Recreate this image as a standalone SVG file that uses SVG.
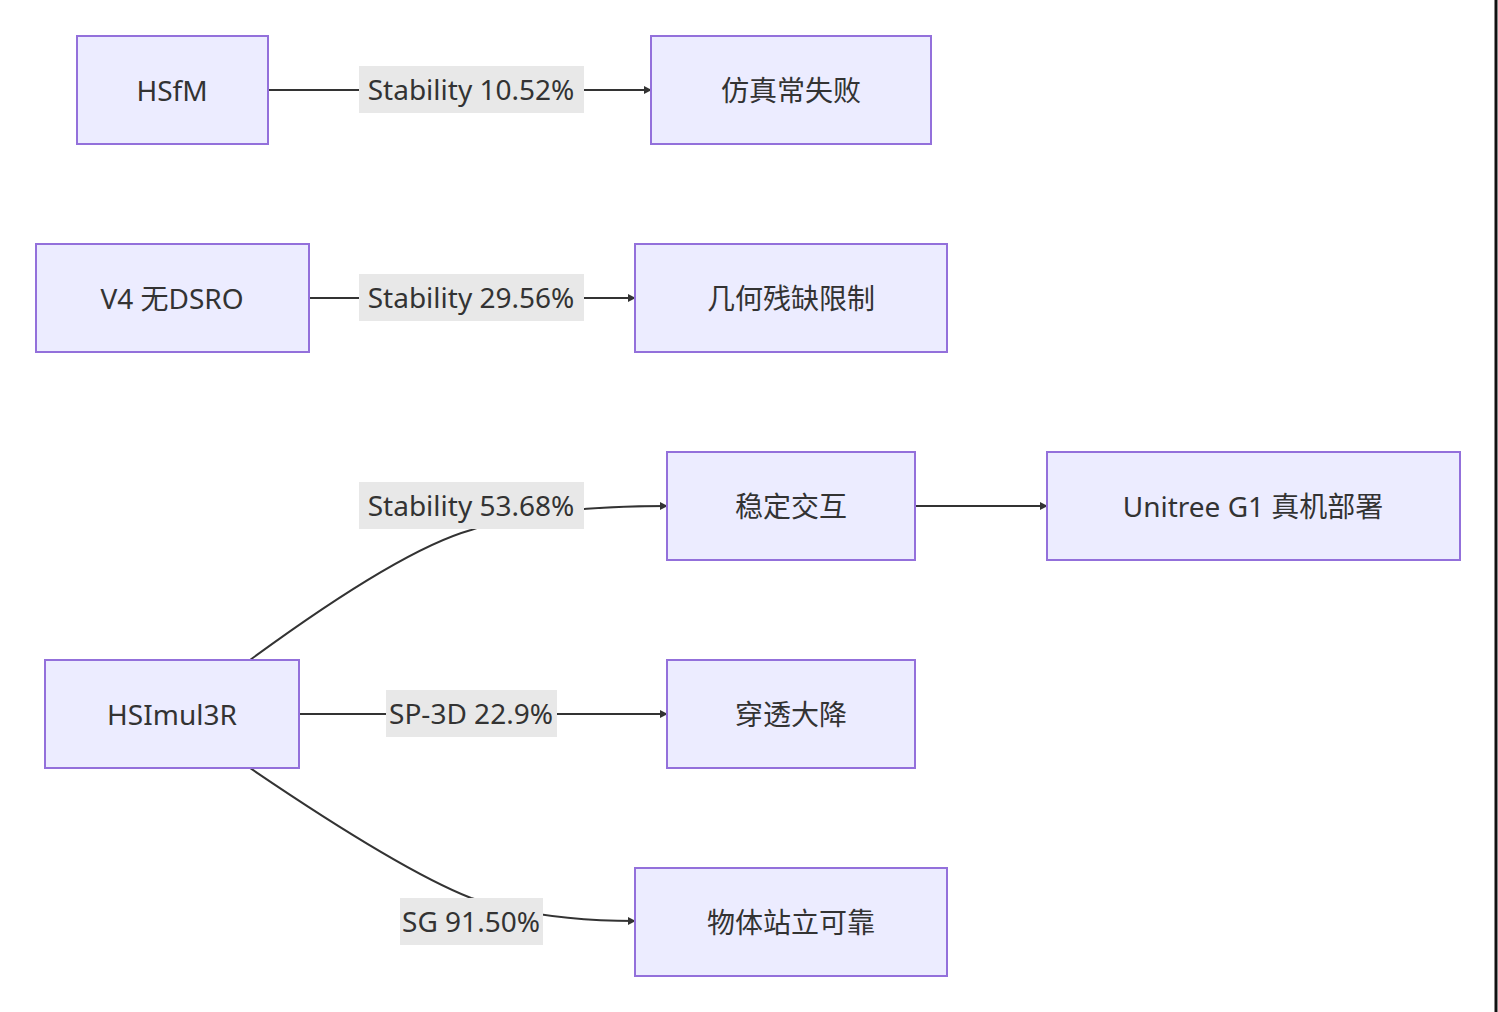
<svg xmlns="http://www.w3.org/2000/svg" width="1498" height="1012" viewBox="0 0 1498 1012">
<style>
.n rect{fill:#ECECFF;stroke:#9370DB;stroke-width:2}
text{font-family:"Noto Sans","Noto Sans CJK SC",sans-serif;font-size:28px;fill:#333;text-anchor:middle;dominant-baseline:central}
.e path{fill:none;stroke:#333;stroke-width:2;marker-end:url(#a)}
.l rect{fill:#e8e8e8}
</style>
<defs><marker id="a" viewBox="0 0 10 10" refX="9" refY="5" markerWidth="8" markerHeight="8" orient="auto" markerUnits="userSpaceOnUse"><path d="M0,0L10,5L0,10z" fill="#333"/></marker></defs>
<rect width="1498" height="1012" fill="#fff"/>
<line x1="1496" y1="0" x2="1496" y2="1012" stroke="#111" stroke-width="3"/>
<g class="e">
<path d="M268,90H651"/>
<path d="M309,298H635"/>
<path d="M250,660Q400,550 471,530Q540,506 667,506"/>
<path d="M916,506H1047"/>
<path d="M300,714H667"/>
<path d="M250,768Q400,870 471,898Q540,921 635,921"/>
</g>
<g class="l">
<rect x="359" y="66" width="225" height="47"/><text x="471" y="89">Stability 10.52%</text>
<rect x="359" y="274" width="225" height="47"/><text x="471" y="297">Stability 29.56%</text>
<rect x="359" y="482" width="225" height="47"/><text x="471" y="505">Stability 53.68%</text>
<rect x="386" y="690" width="171" height="47"/><text x="471" y="713">SP-3D 22.9%</text>
<rect x="400" y="898" width="143" height="47"/><text x="471" y="921">SG 91.50%</text>
</g>
<g id="hsfm" class="n"><rect x="77" y="36" width="191" height="108"/><text x="172" y="90">HSfM</text></g>
<g id="fail" class="n"><rect x="651" y="36" width="280" height="108"/><text x="791" y="90">仿真常失败</text></g>
<g id="v4" class="n"><rect x="36" y="244" width="273" height="108"/><text x="172" y="298">V4 无DSRO</text></g>
<g id="geo" class="n"><rect x="635" y="244" width="312" height="108"/><text x="791" y="298">几何残缺限制</text></g>
<g id="stab" class="n"><rect x="667" y="452" width="248" height="108"/><text x="791" y="506">稳定交互</text></g>
<g id="g1" class="n"><rect x="1047" y="452" width="413" height="108"/><text x="1253" y="506">Unitree G1 真机部署</text></g>
<g id="hsi" class="n"><rect x="45" y="660" width="254" height="108"/><text x="172" y="714">HSImul3R</text></g>
<g id="pen" class="n"><rect x="667" y="660" width="248" height="108"/><text x="791" y="714">穿透大降</text></g>
<g id="obj" class="n"><rect x="635" y="868" width="312" height="108"/><text x="791" y="922">物体站立可靠</text></g>
</svg>
